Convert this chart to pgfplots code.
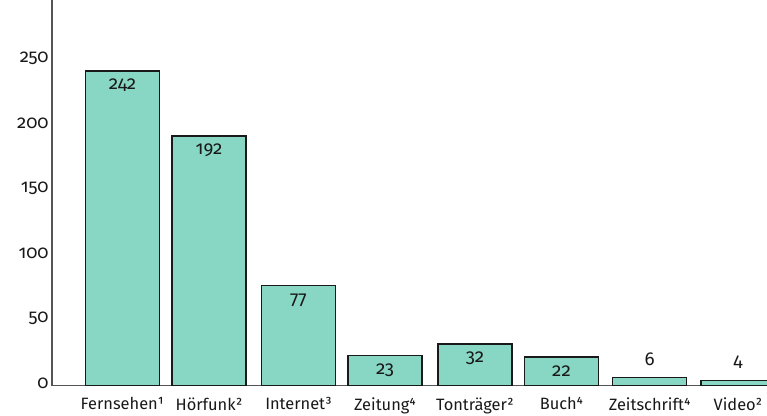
\documentclass[border=0pt]{standalone}
\usepackage{pgfplots}
\pgfplotsset{compat=1.18}
\usepackage{fontspec}
\setmainfont{Fira Sans}[Numbers=OldStyle]
\definecolor{barfill}{RGB}{136,214,196}
\definecolor{axisgray}{RGB}{85,85,85}
\definecolor{txt}{RGB}{25,25,25}
\begin{document}
\begin{tikzpicture}[x=1pt,y=1pt]
\useasboundingbox (-39,-22.125) rectangle (536.25,289.125);
\begin{axis}[
  at={(0,0)}, anchor=south west,
  scale only axis, width=536.25pt, height=302.25pt,
  xmin=52, xmax=767, ymin=0, ymax=310,
  axis lines=left,
  axis line style={axisgray, line width=1.2pt, -},
  major tick length=0pt,
  ytick={0,50,100,150,200,250,300},
  xtick={122.5,209,298.5,385,475,561.5,649.7,738},
  xticklabels={Fernsehen¹,Hörfunk²,Internet³,Zeitung⁴,Tonträger²,Buch⁴,Zeitschrift⁴,Video²},
  tick label style={text=txt},
  xticklabel style={font=\fontsize{12.3pt}{14pt}\selectfont, yshift=-5.5pt},
  yticklabel style={font=\fontsize{13.8pt}{16pt}\selectfont, xshift=1pt, yshift=2pt},
  /pgf/number format/assume math mode=true,
  ybar,
  bar width=55.5pt,
  every node near coord/.append style={font=\fontsize{14pt}{16pt}\selectfont, text=txt},
]
\addplot[fill=barfill, draw=black!90, line width=0.9pt, bar shift=0pt,
  nodes near coords, nodes near coords style={anchor=center, yshift=-11pt}]
  coordinates {(122.5,242) (209,192) (298.5,77) (385,23) (475,32) (561.5,22)};
\addplot[fill=barfill, draw=black!90, line width=0.9pt, bar shift=0pt,
  nodes near coords, nodes near coords style={anchor=center, yshift=13.5pt}]
  coordinates {(649.7,6) (738,4)};
\end{axis}
\end{tikzpicture}
\end{document}
